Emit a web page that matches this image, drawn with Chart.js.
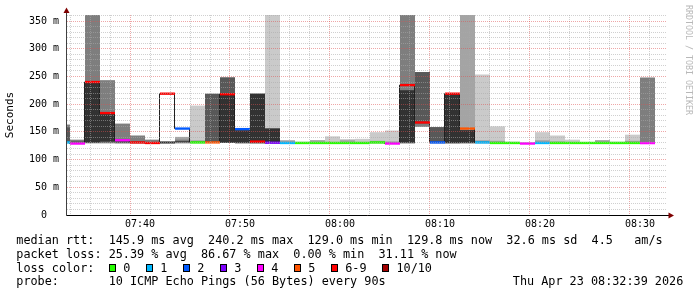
<!DOCTYPE html>
<html>
<head>
<meta charset="utf-8">
<script src="https://cdn.jsdelivr.net/npm/chart.js@4/dist/chart.umd.min.js"></script>
<style>
  html,body{margin:0;padding:0;background:#fff}
  #wrap{position:relative;width:697px;height:297px;overflow:hidden}
  #chart{position:absolute;left:0;top:0}
  .txt{position:absolute;font-family:'DejaVu Sans Mono',monospace;color:#000;white-space:pre}
  #legend{left:16.3px;top:234.4px;font-size:11.8px;line-height:13.67px}
  #legend .sq{display:inline-block;width:5.7px;height:5.7px;border:1px solid #000;margin-right:7px}
  #legend .lab{margin-right:15.2px}
  #stamp{position:absolute;left:496.5px;top:41px}
  #wm{left:683.5px;top:5px;font-size:8.3px;line-height:9px;writing-mode:vertical-rl;color:#b8b8b8}
</style>
</head>
<body>
<div id="wrap">
  <canvas id="chart" width="697" height="297"></canvas>
  <div id="legend" class="txt"></div>
  <div id="wm" class="txt">RRDTOOL / TOBI OETIKER</div>
</div>
<script>
// ---- data (90 s steps, times = end of step) ----
const N = null;
const T = 400;   // ping above the graph's upper limit (drawn to the top)

const stepEnd = ['07:33:00','07:34:30','07:36:00','07:37:30','07:39:00','07:40:30','07:42:00','07:43:30','07:45:00','07:46:30',
                 '07:48:00','07:49:30','07:51:00','07:52:30','07:54:00','07:55:30','07:57:00','07:58:30','08:00:00','08:01:30',
                 '08:03:00','08:04:30','08:06:00','08:07:30','08:09:00','08:10:30','08:12:00','08:13:30','08:15:00','08:16:30',
                 '08:18:00','08:19:30','08:21:00','08:22:30','08:24:00','08:25:30','08:27:00','08:28:30','08:30:00','08:31:30'];

// median rtt (ms)
const median = [131,129,240,184,135,131,130,219,156,131, 131,218,155,132.5,130.5,130,130,130,130,130,
                130,131,129,234.5,167,131,219,156,131,130, 130,129,130,130,130,130,130,130,130,129.8];

// lost pings out of 10
const lossCount = [1,4,7,6,4,6,6,9,2,0, 5,6,2,7,3,1,0,0,0,0, 0,0,4,6,8,2,7,5,1,0, 0,4,1,0,0,0,0,0,0,4];

// sorted ping rtts (ms), ping1 = fastest ... ping10 = slowest
const ping1  = [129,N,129,129,N,N,N,N,N,129, N,N,N,N,129,129,129,129,129,129, 129,129,128,N,N,N,N,N,129,129, 129,N,129,129,129,129,129,129,129,N];
const ping2  = [129.5,N,129.5,129.5,N,N,N,N,129,130, N,N,129,N,129.5,129.5,129.5,129.5,129.5,129.5, 129.5,129.5,128.5,N,N,129,N,129,129.5,129.5, 129.5,N,129.5,129.5,129.5,129.5,129.5,129.5,129.5,N];
const ping3  = [130,128,130,130,129,129,129,N,130,130.5, 129,N,129.5,N,130,130,129.5,129.5,129.5,129.5, 129.5,130,128.5,129,159,130,N,129.5,130,129.5, 129.5,128,129.5,129.5,129.5,129.5,129.5,129.5,129.5,129];
const ping4  = [130.5,128.5,130.5,131,130,130,129.5,129,131,131, 130,130,130,129,130.5,130,130,130,130,130, 130,130.5,129,130,165,130.5,129,130,130.5,130, 130,128.5,130,130,130,130,130,130,130,129.5];
const ping5  = [131,129,131,133,133,131,130,129.5,132,131, 131,131,130.5,130,131,130,130,130,130,130, 130,131,129,131,165,131,130,130.5,131,130, 130,129,130,130,130,130,130,130,130,130];
const ping6  = [131.5,130,240,182,136,132,131,132,133,131.5, 131.5,218,153,219,156,130.5,130,130,130,130, 130,131,129.5,225,165,131.5,219,153,131.5,130.5, 130,129.5,130.5,130.5,130.5,130,130.5,130,130.5,131];
const ping7  = [158,133,240,182,136,132,131,133,133,132, 219,248.5,153,219,156,131,130.5,130.5,130.5,130.5, 130.5,131.5,130,225,258,158.5,219,153,132,131, 130.5,130,131,131,131,130.5,131,130.5,131,131];
const ping8  = [163,136,T,243,165,143.5,136,N,136,133, N,N,153,N,156,132,131,131,131,131, 131,132,131,T,258,158.5,N,153,133,132, 131,130.5,132,131.5,131.5,131,132,131,132,248];
const ping9  = [163,N,T,243,N,N,N,N,141,135, N,N,153,N,156,135,131.5,135,132,135, 132,134,133,N,N,158.5,N,T,135,134, 131.5,N,135,133,132,131.5,135,131.5,134,N];
const ping10 = [N,N,T,243,N,N,N,N,N,197.5, N,N,N,N,T,N,132.5,135,142,137, 137.5,149.5,152.5,N,N,N,N,N,253.5,160, 132.5,N,149.5,143.5,136,132,135,132.5,145,N];

const lossLabels = ['0','1','2','3','4','5','6-9','10/10'];
const lossColors = ['#26ff00','#00b8ff','#0059ff','#7e00ff','#ff00ff','#ff5500','#ff0000','#a10000'];

const yMajor  = [0,50,100,150,200,250,300,350];
const yLabels = ['0  ','50 m','100 m','150 m','200 m','250 m','300 m','350 m'];
const xLabels = ['07:40','07:50','08:00','08:10','08:20','08:30'];

const legendRows = [
  'median rtt:  145.9 ms avg  240.2 ms max  129.0 ms min  129.8 ms now  32.6 ms sd  4.5   am/s',
  'packet loss: 25.39 % avg  86.67 % max  0.00 % min  31.11 % now'
];
const probeText = 'probe:       10 ICMP Echo Pings (56 Bytes) every 90s';
const stampText = 'Thu Apr 23 08:32:39 2026';

// ---- styles ----
const SMOKE = ['#cacaca','#a4a4a4','#7e7e7e','#585858','#323232'];
const GRID = 'rgba(170,170,170,0.55)', MGRID = 'rgba(222,79,79,0.5)';
const MONO = "'DejaVu Sans Mono', monospace";
const MED_HALF = 2.1;   // half height of the loss coloured median mark

const toMin = t => { const p = t.split(':').map(Number); return p[0]*60 + p[1] + (p[2]||0)/60; };
const bucket = n => n <= 5 ? n : (n < 10 ? 6 : 7);
const xs = stepEnd.map(t => toMin(t) - 0.75);       // step centres
const pings = [ping1,ping2,ping3,ping4,ping5,ping6,ping7,ping8,ping9,ping10];
const xMajorVals = xLabels.map(toMin);
const tickVal = c => (c && c.tick) ? c.tick.value : NaN;

function smokeBand(i){   // band between ping(i+1) and ping(10-i)
  const lo = pings[i], hi = pings[9-i];
  return xs.map((x,k) => (lo[k] == null || hi[k] == null) ? null : {x, y:[lo[k], hi[k]]}).filter(Boolean);
}

const barCommon = {type:'bar', grouped:false, barPercentage:1, categoryPercentage:1, borderWidth:0, inflateAmount:0, clip:0};

const datasets = [
  Object.assign({label:'median', data: xs.map((x,k) => ({x, y:[median[k]-MED_HALF, median[k]+MED_HALF]})),
    backgroundColor: lossCount.map(n => lossColors[bucket(n)])}, barCommon),
  {type:'line', label:'median line', data: xs.map((x,k) => ({x, y:median[k]})), stepped:'middle',
    borderColor:'#202020', borderWidth:1, pointRadius:0, fill:false, clip:0},
  ...[4,3,2,1,0].map(i => Object.assign({label:'smoke'+i, data: smokeBand(i), backgroundColor: SMOKE[i]}, barCommon))
];

// keep the 1px median line on whole pixels so its vertical steps stay sharp
const crispLine = {
  id:'crispLine',
  beforeDatasetDraw(chart, args){ if (args.meta.type === 'line') { chart.ctx.save(); chart.ctx.translate(-0.5, 0); } },
  afterDatasetDraw(chart, args){ if (args.meta.type === 'line') chart.ctx.restore(); }
};

const axesPlugin = {
  id:'rrdAxes',
  afterDraw(chart){
    const {ctx, chartArea:a} = chart;
    ctx.save();
    ctx.lineWidth = 1;
    ctx.strokeStyle = '#404040';
    ctx.beginPath(); ctx.moveTo(a.left-0.5, a.bottom+0.5); ctx.lineTo(a.left-0.5, a.top-3); ctx.stroke();
    ctx.strokeStyle = '#000';
    ctx.beginPath(); ctx.moveTo(a.left-0.5, a.bottom+0.5); ctx.lineTo(a.right+2, a.bottom+0.5); ctx.stroke();
    ctx.fillStyle = '#7f0000';
    ctx.beginPath(); ctx.moveTo(a.left-3.5, a.top-2); ctx.lineTo(a.left+2.5, a.top-2); ctx.lineTo(a.left-0.5, a.top-7.5); ctx.closePath(); ctx.fill();
    ctx.beginPath(); ctx.moveTo(a.right+1.5, a.bottom-2.5); ctx.lineTo(a.right+1.5, a.bottom+3.5); ctx.lineTo(a.right+7, a.bottom+0.5); ctx.closePath(); ctx.fill();
    ctx.restore();
  }
};

new Chart(document.getElementById('chart'), {
  type:'bar',
  data:{datasets},
  options:{
    responsive:false, animation:false, devicePixelRatio:1, events:[],
    layout:{padding:{top:15, right:30, bottom:0, left:0}},
    plugins:{legend:{display:false}, tooltip:{enabled:false}},
    scales:{
      x:{type:'linear', min:452.7, max:512.7, offset:false,
        afterBuildTicks: s => { s.ticks = []; for (let m = 454; m <= 512; m += 2) s.ticks.push({value:m}); },
        afterFit: s => { s.height = 82; },
        grid:{z:1, drawTicks:false, color: c => xMajorVals.includes(tickVal(c)) ? MGRID : GRID},
        border:{display:false, dash:[1,1]},
        ticks:{autoSkip:false, maxRotation:0, padding:3.5, color:'#000', font:{family:MONO, size:10},
          callback: v => { const i = xMajorVals.indexOf(v); return i < 0 ? '' : xLabels[i]; }}
      },
      y:{min:0, max:361,
        afterBuildTicks: s => { s.ticks = []; for (let v = 0; v <= 360; v += 10) s.ticks.push({value:v}); },
        afterFit: s => { s.width = 67; },
        grid:{z:1, drawTicks:false, color: c => yMajor.includes(tickVal(c)) ? MGRID : GRID},
        border:{display:false, dash:[1,1]},
        ticks:{autoSkip:false, padding:8, color:'#000', font:{family:MONO, size:10},
          callback: v => { const i = yMajor.indexOf(v); return i < 0 ? '' : yLabels[i]; }},
        title:{display:true, text:'Seconds', color:'#000', font:{family:MONO, size:11}, padding:{top:4, bottom:0}}
      }
    }
  },
  plugins:[crispLine, axesPlugin]
});

// ---- text legend below the graph ----
const leg = document.getElementById('legend');
legendRows.forEach(r => { const d = document.createElement('div'); d.textContent = r; leg.appendChild(d); });
const lossRow = document.createElement('div');
lossRow.appendChild(document.createTextNode('loss color:  '));
lossLabels.forEach((l,i) => {
  const sq = document.createElement('span'); sq.className = 'sq'; sq.style.background = lossColors[i];
  const lab = document.createElement('span'); lab.className = 'lab'; lab.textContent = l;
  lossRow.appendChild(sq); lossRow.appendChild(lab);
});
leg.appendChild(lossRow);
const probe = document.createElement('div'); probe.textContent = probeText; leg.appendChild(probe);
const stamp = document.createElement('span'); stamp.id = 'stamp'; stamp.textContent = stampText; leg.appendChild(stamp);
</script>
</body>
</html>
